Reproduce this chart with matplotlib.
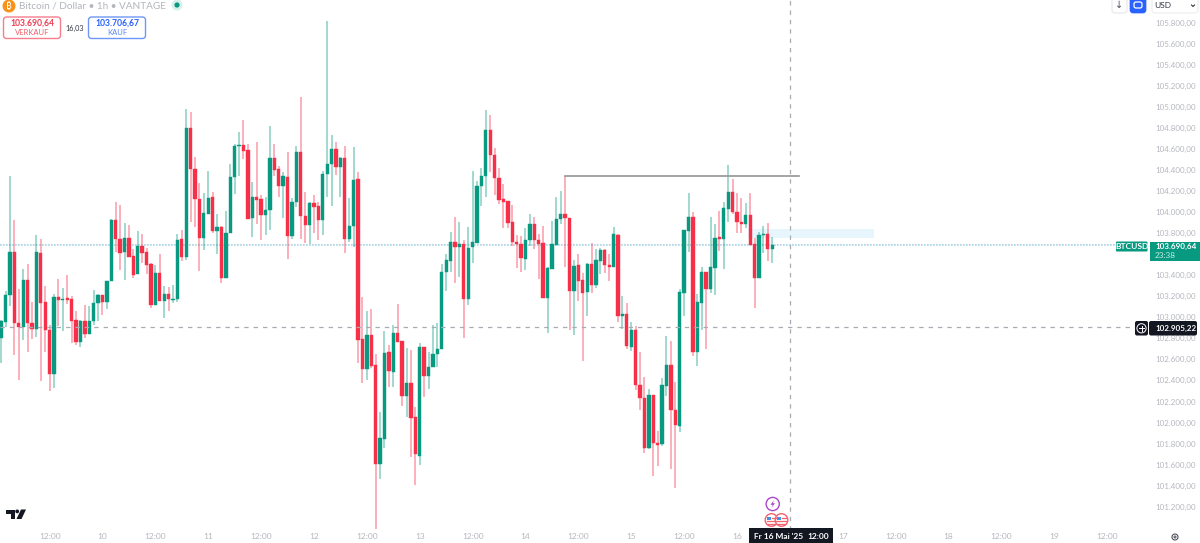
"""
btcusd 1h candles, tradingview look
"""
import numpy as np
import matplotlib
matplotlib.use("Agg")
import matplotlib.pyplot as plt
from matplotlib.patches import Circle, FancyBboxPatch, Polygon, Rectangle

plt.rcParams['font.family'] = ['Lato', 'DejaVu Sans']

# hourly candles, first one is 9 May 01:00
opens = [102806, 102958, 103211, 103617, 102945, 102907, 103351, 102945, 102885, 103610,
         103145, 102879, 102461, 103192, 103167, 103180, 103173, 102974, 102765, 102967,
         102841, 102961, 103132, 103208, 103145, 103341, 103924, 103743, 103620, 103756,
         103582, 103411, 103680, 103617, 103506, 103120, 103417, 103151, 103224, 103167,
         103173, 103743, 103569, 104795, 104405, 104120, 103756, 103981, 104142, 103822,
         103854, 103373, 103803, 104329, 104624, 104636, 104586, 103943, 104142, 104123,
         103971, 104019, 104516, 104408, 104247, 104332, 103772, 104095, 104573, 103965,
         103873, 104085, 104054, 103924, 104361, 104456, 104595, 104427, 104516, 103746,
         103867, 104313, 102790, 102505, 102834, 102543, 101609, 101843, 102670, 102480,
         102847, 102771, 102252, 102378, 102052, 101685, 102720, 102442, 102524, 102651,
         102695, 103433, 103534, 103712, 103664, 103696, 103170, 103664, 103705, 104244,
         104339, 104776, 104541, 104326, 104120, 104104, 103902, 103712, 103699, 103557,
         103731, 103883, 103737, 103702, 103186, 103458, 103690, 103930, 103984, 103946,
         103246, 103493, 103351, 103240, 103509, 103310, 103538, 103639, 103496, 103481,
         103781, 103012, 103031, 102720, 102882, 102356, 102233, 101761, 102258, 101808,
         101796, 102347, 102543, 102116, 101970, 103234, 103823, 103952, 102670, 103139,
         103430, 103265, 103468, 103762, 103743, 104028, 104187, 104003, 103908, 103886,
         103971, 103693, 103373, 103781, 103788, 103652]
closes = [102967, 103211, 103617, 102945, 102904, 103351, 102945, 102885, 103617, 103139,
          102879, 102461, 103189, 103164, 103173, 103164, 102967, 102765, 102961, 102841,
          102967, 103139, 103208, 103145, 103344, 103924, 103740, 103614, 103750, 103569,
          103405, 103680, 103607, 103500, 103120, 103417, 103151, 103224, 103170, 103173,
          103737, 103569, 104795, 104405, 104120, 103756, 103987, 104136, 103822, 103854,
          103373, 103800, 104332, 104630, 104636, 104583, 103936, 104142, 104117, 103968,
          104022, 104516, 104399, 104247, 104339, 103772, 104098, 104573, 103962, 103873,
          104085, 104051, 103924, 104364, 104456, 104595, 104431, 104516, 103746, 103870,
          104307, 102784, 102505, 102834, 102537, 101603, 101850, 102663, 102486, 102847,
          102765, 102252, 102372, 102046, 101697, 102714, 102442, 102530, 102651, 102701,
          103433, 103541, 103712, 103664, 103696, 103170, 103658, 103712, 104244, 104345,
          104776, 104541, 104323, 104114, 104098, 103892, 103712, 103696, 103563, 103731,
          103889, 103734, 103696, 103180, 103468, 103696, 103930, 103984, 103940, 103246,
          103490, 103344, 103234, 103509, 103310, 103541, 103639, 103493, 103481, 103788,
          103015, 103031, 102727, 102882, 102356, 102230, 101761, 102258, 101805, 101786,
          102356, 102543, 102122, 101976, 103237, 103826, 103952, 102673, 103142, 103430,
          103265, 103474, 103756, 103743, 104035, 104187, 103997, 103905, 103886, 103971,
          103686, 103373, 103781, 103788, 103652, 103690]
highs = [102974, 103249, 104342, 103921, 103268, 103458, 103506, 103145, 103778, 103743,
         103297, 102923, 103218, 103360, 103275, 103398, 103205, 103056, 102974, 103113,
         103107, 103256, 103221, 103208, 103344, 103937, 104098, 104066, 103895, 103873,
         103648, 103816, 103788, 103655, 103512, 103496, 103601, 103297, 103291, 103306,
         103788, 103829, 104975, 104950, 104526, 104272, 104180, 104389, 104193, 103984,
         103867, 104009, 104459, 104643, 104757, 104871, 104646, 104288, 104668, 104161,
         104142, 104817, 104643, 104440, 104377, 104567, 104130, 104624, 105089, 104187,
         104098, 104161, 104098, 104389, 105811, 104731, 104668, 104522, 104624, 104130,
         104617, 104377, 103192, 103062, 103075, 102651, 102100, 102872, 102733, 102923,
         103126, 102771, 102705, 102689, 102147, 102752, 102720, 102670, 102929, 102942,
         103506, 103601, 103810, 103952, 103908, 103731, 103857, 104389, 104294, 104415,
         104966, 104921, 104611, 104421, 104269, 104104, 104066, 103781, 103772, 103845,
         103978, 103949, 103788, 103870, 103474, 103914, 104142, 104199, 104342, 103946,
         103541, 103601, 103417, 103515, 103702, 103645, 103655, 103645, 103601, 103854,
         103788, 103202, 103135, 102955, 102917, 102670, 102435, 102318, 102258, 101919,
         102420, 102822, 102777, 102385, 103268, 103826, 104180, 104003, 103218, 103474,
         103430, 103952, 103883, 104009, 104098, 104446, 104313, 104180, 104130, 104085,
         104180, 103756, 103807, 103870, 103895, 103762]
lows = [102568, 102904, 103107, 102638, 102407, 102784, 102673, 102790, 102812, 102397,
        102673, 102302, 102328, 102917, 102872, 103126, 102758, 102733, 102720, 102806,
        102841, 102929, 102961, 103018, 103081, 103341, 103620, 103449, 103354, 103569,
        103373, 103411, 103519, 103411, 103088, 103113, 103151, 102993, 103062, 103139,
        103148, 103531, 103544, 103908, 103861, 103436, 103639, 103981, 103797, 103601,
        103328, 103373, 103803, 104174, 104345, 104503, 103936, 103765, 103886, 103734,
        103778, 103829, 104342, 104142, 103943, 103556, 103746, 104051, 103740, 103702,
        103696, 103803, 103734, 103781, 104142, 104057, 104351, 104146, 103613, 103715,
        103670, 102562, 102372, 102404, 102518, 100991, 101466, 101755, 102334, 102340,
        102765, 102157, 102055, 101675, 101406, 101596, 102239, 102315, 102524, 102524,
        102695, 103253, 103433, 103328, 103379, 102803, 103120, 103519, 103705, 104060,
        104142, 104377, 104161, 104076, 103851, 103851, 103680, 103471, 103433, 103449,
        103677, 103645, 103366, 103180, 102850, 103458, 103690, 103889, 103474, 102879,
        102831, 103158, 102587, 103012, 103227, 103278, 103411, 103417, 103341, 103481,
        102955, 102891, 102695, 102683, 102309, 102119, 101713, 101745, 101495, 101590,
        101777, 102252, 101558, 101375, 101910, 103012, 103623, 102632, 102537, 102879,
        102695, 103227, 103215, 103633, 103455, 103908, 103984, 103797, 103804, 103848,
        103686, 103091, 103373, 103614, 103538, 103512]

# hours counted from 10 May 00:00
start_hour = -23
last_price = 103690.64
cross_price = 102905.22
cross_hour = 156
ray_price = 104345
ray_hours = [105, 158]
zone_prices = [103756, 103838]
zone_hours = [146.6, 175]

# 103.600 sits behind the price tag in the original
price_ticks = [p for p in range(101200, 105801, 200) if p != 103600]
time_ticks = [-12, 0, 12, 24, 36, 48, 60, 72, 84, 96, 108, 120, 132, 144, 168, 180, 192, 204, 216, 228]
time_labels = ['12:00', '10', '12:00', '11', '12:00', '12', '12:00', '13', '12:00', '14', '12:00',
               '15', '12:00', '16', '17', '12:00', '18', '12:00', '19', '12:00']

UP = '#089981'
DOWN = '#f7304a'
GRAY = '#b4b7be'


def price_label(v):
    return f"{v:,.2f}".replace(',', 'X').replace('.', ',').replace('X', '.')


opens = np.array(opens)
closes = np.array(closes)
highs = np.array(highs)
lows = np.array(lows)
hours = start_hour + np.arange(len(opens))
colors = np.where(closes >= opens, UP, DOWN)

fig = plt.figure(figsize=(12, 5.43), dpi=100)
ax = fig.add_axes([0, 13/543, 1145/1200, 530/543])
ax.set_xlim(-23.26, 236.6)
ax.set_ylim(100979, 106014)

ax.add_patch(Rectangle((zone_hours[0], zone_prices[0]), zone_hours[1]-zone_hours[0],
                       zone_prices[1]-zone_prices[0], color='#e6f6fc', lw=0, zorder=1))
ax.axhline(last_price + 10, color='#fbe3e6', lw=0.7, ls=(0, (1, 1.5)), zorder=1)
ax.axhline(last_price - 8, color='#a6d6e6', lw=1.2, ls=(0, (1, 0.8)), zorder=1)

# candles
ax.vlines(hours, lows, highs, colors=colors, lw=1.1, alpha=0.48, zorder=2)
ax.bar(hours, np.abs(closes-opens), bottom=np.minimum(opens, closes), width=0.75,
       color=colors, edgecolor=colors, lw=0.3, zorder=3)

ax.plot(ray_hours, [ray_price, ray_price], color='#959595', lw=1.2, zorder=4)
ax.axvline(cross_hour, color='#a8abb3', lw=0.9, ls=(0, (3.5, 4)), zorder=4)
ax.axhline(cross_price, color='#a8abb3', lw=0.9, ls=(0, (3.5, 4)), zorder=4)

for s in ax.spines.values():
    s.set_visible(False)
ax.yaxis.tick_right()
ax.set_yticks(price_ticks)
ax.set_yticklabels([price_label(p) for p in price_ticks])
ax.set_xticks(time_ticks)
ax.set_xticklabels(time_labels)
ax.tick_params(axis='y', length=0, pad=7.2, labelsize=5.7, labelcolor=GRAY)
ax.tick_params(axis='x', length=0, pad=2, labelsize=6, labelcolor=GRAY)

# overlay in pixels for the tradingview widgets
ov = fig.add_axes([0, 0, 1, 1], zorder=10)
ov.set_xlim(0, 1200)
ov.set_ylim(543, 0)
ov.axis('off')
ov.patch.set_alpha(0)

# header
ov.add_patch(Circle((9, 6), 6.5, color='#f7931a', lw=0))
ov.text(9, 6, '\u20bf', color='white', fontsize=7, ha='center', va='center',
        family=['Noto Sans', 'Roboto', 'Inter', 'Open Sans', 'DejaVu Sans'], fontweight='bold')
ov.text(19, 6, 'Bitcoin / Dollar \u2022 1h \u2022 VANTAGE', color='#b2b5bc', fontsize=7.2,
        ha='left', va='center')
ov.add_patch(Circle((177, 5), 5.5, color='#d8f0ea', lw=0))
ov.add_patch(Circle((177, 5), 2.6, color=UP, lw=0))

ov.add_patch(FancyBboxPatch((3.5, 17), 57, 21.5, boxstyle='round,pad=0,rounding_size=3',
                            fc='white', ec='#f77c8c', lw=1))
ov.text(32, 23, price_label(last_price), color='#ee3d52', fontsize=6.2, ha='center', va='center',
        fontweight='bold')
ov.text(32, 32.5, 'VERKAUF', color='#f0606f', fontsize=5.5, ha='center', va='center')
ov.text(75, 28, '16,03', color='#333744', fontsize=5.2, ha='center', va='center')
ov.add_patch(FancyBboxPatch((88.5, 17), 57, 21.5, boxstyle='round,pad=0,rounding_size=3',
                            fc='white', ec='#6f97f7', lw=1))
ov.text(117, 23, price_label(103706.67), color='#2962ff', fontsize=6.2, ha='center', va='center',
        fontweight='bold')
ov.text(117, 32.5, 'KAUF', color='#5a86f5', fontsize=5.5, ha='center', va='center')

# top right buttons
ov.add_patch(FancyBboxPatch((1112, -3), 15, 16, boxstyle='round,pad=0,rounding_size=3',
                            fc='white', ec='#e6e7ea', lw=0.8))
ov.text(1119.5, 5, '\u2193', color='#50535e', fontsize=7, ha='center', va='center', family='DejaVu Sans')
ov.add_patch(FancyBboxPatch((1130, -3), 16, 16, boxstyle='round,pad=0,rounding_size=3',
                            fc='#2962ff', ec='#2962ff', lw=0.5))
ov.add_patch(FancyBboxPatch((1134, 2), 8, 6, boxstyle='round,pad=0,rounding_size=2',
                            fc='none', ec='white', lw=0.9))
ov.add_patch(FancyBboxPatch((1152, -3), 46, 16, boxstyle='round,pad=0,rounding_size=3',
                            fc='white', ec='#eceded', lw=0.8))
ov.text(1154, 5.5, 'USD', color='#333744', fontsize=6, ha='left', va='center')
ov.plot([1191.5, 1193, 1194.5], [5, 6.5, 5], color='#333744', lw=0.8)

# price tags
ov.add_patch(FancyBboxPatch((1116, 241.5), 31.5, 10, boxstyle='round,pad=0,rounding_size=1', fc=UP, ec=UP, lw=0))
ov.text(1131.8, 246.6, 'BTCUSD', color='white', fontsize=6, ha='center', va='center', fontweight='bold')
ov.add_patch(Rectangle((1149.5, 241.5), 50.5, 19.3, fc=UP, ec=UP, lw=0))
ov.text(1155, 246.5, price_label(last_price), color='white', fontsize=5.8, ha='left', va='center',
        fontweight='bold')
ov.text(1155, 255.2, '23:38', color='#c4ebe3', fontsize=5.9, ha='left', va='center')

ov.add_patch(FancyBboxPatch((1135, 321), 13, 14.5, boxstyle='round,pad=0,rounding_size=2', fc='#131722', ec='#131722', lw=0))
ov.add_patch(Circle((1141.5, 328.3), 4.6, fc='none', ec='white', lw=0.7))
ov.plot([1139, 1144], [328.3, 328.3], color='white', lw=0.7)
ov.plot([1141.5, 1141.5], [325.8, 330.8], color='white', lw=0.7)
ov.add_patch(FancyBboxPatch((1149, 321), 48, 14.5, boxstyle='round,pad=0,rounding_size=2', fc='#131722', ec='#131722', lw=0))
ov.text(1155, 328.3, price_label(cross_price), color='white', fontsize=5.8, ha='left', va='center',
        fontweight='bold')

# date label under the cursor
ov.add_patch(Rectangle((749, 528), 84, 15, fc='#131722', lw=0))
ov.text(754, 536.5, "Fr 16 Mai '25", color='white', fontsize=6, ha='left', va='center', fontweight='bold')
ov.text(807, 536.5, '12:00', color='white', fontsize=6, ha='left', va='center', fontweight='bold')

# events
ov.add_patch(Circle((772.7, 504), 6.6, fc='white', ec='#ab47c8', lw=1))
ov.add_patch(Polygon([(774, 500), (770.5, 504.8), (772.7, 504.8), (771.5, 508), (775, 503.2), (772.8, 503.2)],
                     fc='#ab47c8', lw=0))
for cx in [771.5, 781.5]:
    ov.add_patch(Circle((cx, 520), 6.3, fc='white', ec='#f4616f', lw=1))
    ov.add_patch(Rectangle((cx-4.5, 516.5), 4.3, 3.6, fc='#4a90e2', lw=0))
    ov.plot([cx-4.5, cx+4.5], [521.3, 521.3], color='#f4616f', lw=0.9)
    ov.plot([cx-3.5, cx+3.5], [523.6, 523.6], color='#f4616f', lw=0.9)
    ov.plot([cx, cx+4.5], [518, 518], color='#f4616f', lw=0.9)

# logo
ov.add_patch(Polygon([(6, 509.5), (14.5, 509.5), (14.5, 519), (10.5, 519), (10.5, 513.5), (6, 513.5)],
                     fc='#131722', lw=0))
ov.add_patch(Circle((17.2, 511.4), 1.9, fc='#131722', lw=0))
ov.add_patch(Polygon([(21, 509.5), (26, 509.5), (21.5, 519), (16.5, 519)], fc='#131722', lw=0))

# settings gear, bottom right
ov.add_patch(Circle((1175, 537), 3, fc='none', ec='#50535e', lw=0.8))
ov.add_patch(Circle((1175, 537), 1, fc='none', ec='#50535e', lw=0.7))

fig.savefig('out.png', dpi=100)
